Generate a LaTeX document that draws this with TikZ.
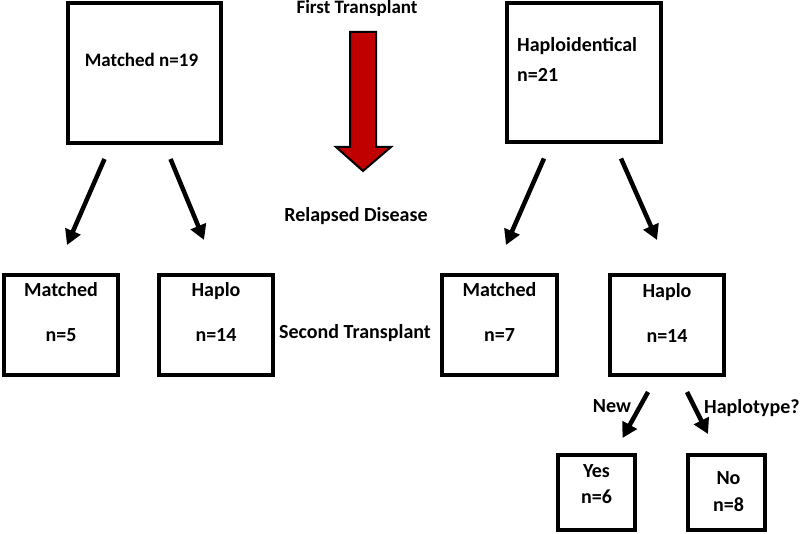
\documentclass[tikz,border=0pt]{standalone}
\usepackage{fontspec}
\setmainfont{Carlito}
\usetikzlibrary{arrows.meta, calc}
\definecolor{blockred}{RGB}{192,0,0}

\begin{document}
\begin{tikzpicture}[x=1pt, y=-1pt,
    box/.style={draw, line width=4pt, inner sep=0pt},
    lbl/.style={font=\fontsize{20}{23}\selectfont\bfseries, inner sep=0pt, anchor=base},
    arr/.style={line width=4.5pt, -{Triangle[length=15pt, width=16pt]}}]
    \useasboundingbox (0,0) rectangle (800,534);
    % First transplant boxes
    \node[box, minimum width=153, minimum height=140] (m19) at (144.5,73) {};
    \node[lbl, font=\fontsize{19}{22}\selectfont\bfseries] at ($(m19.north)+(-3,66)$) {Matched n=19};
    \node[box, minimum width=154, minimum height=139] (hapl) at (584,72.5) {};
    \node[lbl, anchor=base west] at ($(hapl.north west)+(12,50.5)$) {Haploidentical};
    \node[lbl, anchor=base west] at ($(hapl.north west)+(12,80.5)$) {n=21};
    % Second transplant boxes
    \node[box, minimum width=114, minimum height=100] (m5) at (61,325) {};
    \node[lbl] at ($(m5.north)+(0,23.5)$) {Matched};
    \node[lbl] at ($(m5.north)+(0,68.5)$) {n=5};
    \node[box, minimum width=114, minimum height=100] (h14a) at (216,325) {};
    \node[lbl] at ($(h14a.north)+(0,23.5)$) {Haplo};
    \node[lbl] at ($(h14a.north)+(0,68.5)$) {n=14};
    \node[box, minimum width=115, minimum height=100] (m7) at (499.5,325) {};
    \node[lbl] at ($(m7.north)+(0,23.5)$) {Matched};
    \node[lbl] at ($(m7.north)+(0,68.5)$) {n=7};
    \node[box, minimum width=114, minimum height=100] (h14b) at (667,325) {};
    \node[lbl] at ($(h14b.north)+(0,24.5)$) {Haplo};
    \node[lbl] at ($(h14b.north)+(0,70)$) {n=14};
    % Haplotype boxes
    \node[box, minimum width=77, minimum height=75] (yes) at (596.5,492.5) {};
    \node[lbl] at ($(yes.north)+(0,24.5)$) {Yes};
    \node[lbl] at ($(yes.north)+(0,50.5)$) {n=6};
    \node[box, minimum width=77, minimum height=75] (no) at (726.5,492.5) {};
    \node[lbl] at ($(no.north)+(2,31.5)$) {No};
    \node[lbl] at ($(no.north)+(2,58.5)$) {n=8};
    % Middle labels
    \node[lbl, font=\fontsize{19}{22}\selectfont\bfseries] (first) at (357,13.5) {First Transplant};
    \node[lbl] (relapse) at (356,222) {Relapsed Disease};
    \node[lbl] (second) at (355,338.5) {Second Transplant};
    % Red arrow
    \draw[fill=blockred, line width=2pt, line join=miter]
        (350,32) -- (376,32) -- (376,147) -- (391,147) -- (363,171)
        -- (336,147) -- (350,147) -- cycle;
    % Arrow ends
    \coordinate (m19l) at ($(m19.south)+(-40,14)$);
    \coordinate (m19r) at ($(m19.south)+(26,14)$);
    \coordinate (m5t) at ($(m5.north)+(6,-28)$);
    \coordinate (h14at) at ($(h14a.north)+(-12,-33)$);
    \coordinate (hapll) at ($(hapl.south)+(-40,14.5)$);
    \coordinate (haplr) at ($(hapl.south)+(37,14.5)$);
    \coordinate (m7t) at ($(m7.north)+(6.5,-28)$);
    \coordinate (h14bt) at ($(h14b.north)+(-10,-33)$);
    \coordinate (h14bl) at ($(h14b.south)+(-19,15)$);
    \coordinate (h14br) at ($(h14b.south)+(20,15)$);
    \coordinate (yest) at ($(yes.north)+(26,-15)$);
    \coordinate (not) at ($(no.north)+(-18.5,-19)$);
    % Arrows
    \draw[arr] (m19l) -- (m5t);
    \draw[arr] (m19r) -- (h14at);
    \draw[arr] (hapll) -- (m7t);
    \draw[arr] (haplr) -- (h14bt);
    \draw[arr] (h14bl) -- (yest);
    \draw[arr] (h14br) -- (not);
    \node[lbl] (new) at (612,412.5) {New};
    \node[lbl, anchor=base west] (htype) at (704,413.5) {Haplotype?};
\end{tikzpicture}
\end{document}
